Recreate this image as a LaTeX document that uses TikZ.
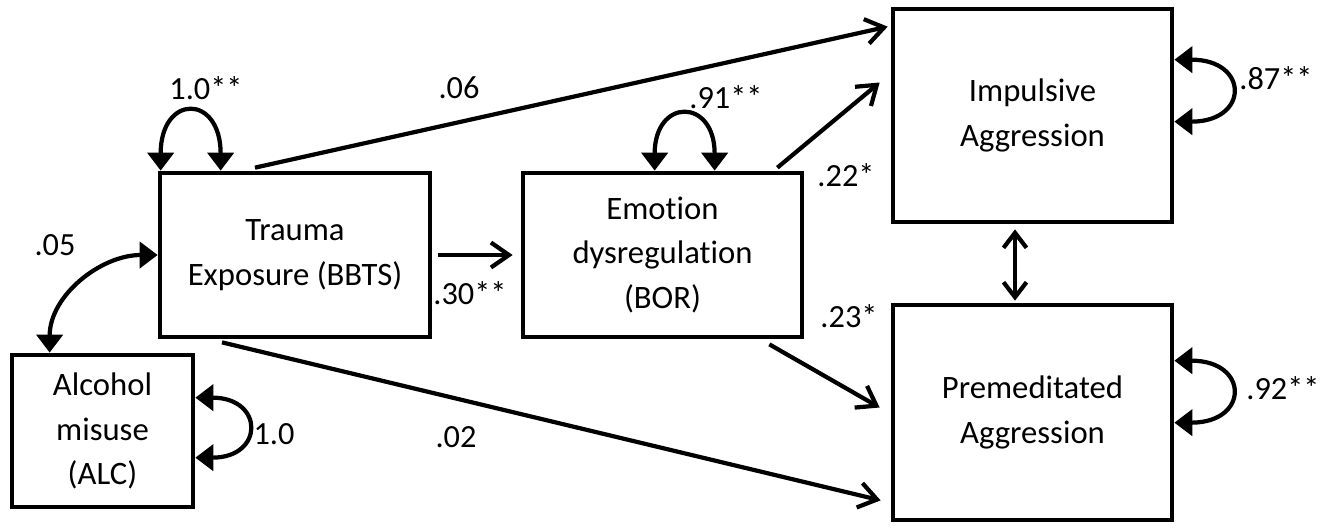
\documentclass[tikz,border=0pt]{standalone}
\usepackage{fontspec}
\setmainfont{Carlito}[Ligatures=NoCommon]
\usetikzlibrary{arrows.meta,calc}
\tikzset{
  var/.style={draw, line width=2.7pt, inner sep=0pt, align=center, font=\fontsize{18.6}{25.5}\selectfont},
  effect/.style={line width=2.4pt, -{Straight Barb[length=0.36cm,width=0.5cm]}},
  both/.style={line width=2.4pt, {Straight Barb[length=0.3cm,width=0.46cm]}-{Straight Barb[length=0.3cm,width=0.46cm]}},
  cov/.style={line width=2.4pt, {Triangle[length=0.36cm,width=0.52cm]}-{Triangle[length=0.36cm,width=0.52cm]}},
  coef/.style={font=\fontsize{18.4}{20}\selectfont}
}
\begin{document}
\begin{tikzpicture}[x=0.02cm, y=-0.02cm]
    \useasboundingbox (0,0) rectangle (1334,529);
    \node[var, minimum width=5.4cm, minimum height=3.28cm] (trauma) at (295,255) {Trauma\\Exposure (BBTS)};
    \node[var, minimum width=3.62cm, minimum height=3.04cm] (alcohol) at (102.5,431) {Alcohol\\misuse\\(ALC)};
    \node[var, minimum width=5.58cm, minimum height=3.28cm] (emotion) at (662.5,255) {Emotion\\dysregulation\\(BOR)};
    \node[var, minimum width=5.58cm, minimum height=4.26cm] (impulsive) at (1032.5,115.5) {Impulsive\\Aggression};
    \node[var, minimum width=5.58cm, minimum height=4.3cm] (premed) at (1032.5,412.5) {Premeditated\\Aggression};

    \draw[effect] ($(trauma.east)+(6,0)$) -- ($(emotion.west)+(-8,0)$);
    \draw[effect] ($(trauma.north)+(-40,-3)$) -- ($(impulsive.north west)+(-3,20)$);
    \draw[effect] ($(trauma.south)+(-73,3)$) -- ($(premed.south west)+(-10,-22)$);
    \draw[effect] ($(emotion.north east)+(-27,-3)$) -- ($(impulsive.west)+(-11,-33)$);
    \draw[effect] ($(emotion.south east)+(-35,5)$) -- ($(premed.west)+(-11,-5)$);
    \draw[both] ($(impulsive.south)+(-17.5,5)$) -- ($(premed.north)+(-17.5,-2)$);

    \draw[cov] (trauma.west) to[out=180, in=90] ($(alcohol.north west)+(40,0)$);
    \draw[cov] ($(trauma.north west)+(3,0)$) .. controls +(0,-77) and +(0,-77) .. ($(trauma.north west)+(63,0)$);
    \draw[cov] ($(emotion.north west)+(134,0)$) .. controls +(0,-73) and +(0,-73) .. ($(emotion.north west)+(194,0)$);
    \draw[cov] ($(alcohol.north east)+(0,45)$) .. controls +(69,0) and +(69,0) .. ($(alcohol.north east)+(0,105)$);
    \draw[cov] ($(impulsive.north east)+(0,53)$) .. controls +(75,0) and +(75,0) .. ($(impulsive.north east)+(0,115)$);
    \draw[cov] ($(premed.north east)+(0,58)$) .. controls +(75,0) and +(75,0) .. ($(premed.north east)+(0,120)$);

    \node[coef] (c1) at (206,88) {1.0**};
    \node[coef] (c2) at (459,88) {.06};
    \node[coef] (c3) at (470,293) {.30**};
    \node[coef] (c4) at (726,97) {.91**};
    \node[coef] (c5) at (846,175) {.22*};
    \node[coef] (c6) at (849,316) {.23*};
    \node[coef] (c7) at (55,245) {.05};
    \node[coef] (c8) at (456,437) {.02};
    \node[coef] (c9) at (274,434) {1.0};
    \node[coef] (c10) at (1276,78) {.87**};
    \node[coef] (c11) at (1283,388) {.92**};
\end{tikzpicture}
\end{document}
